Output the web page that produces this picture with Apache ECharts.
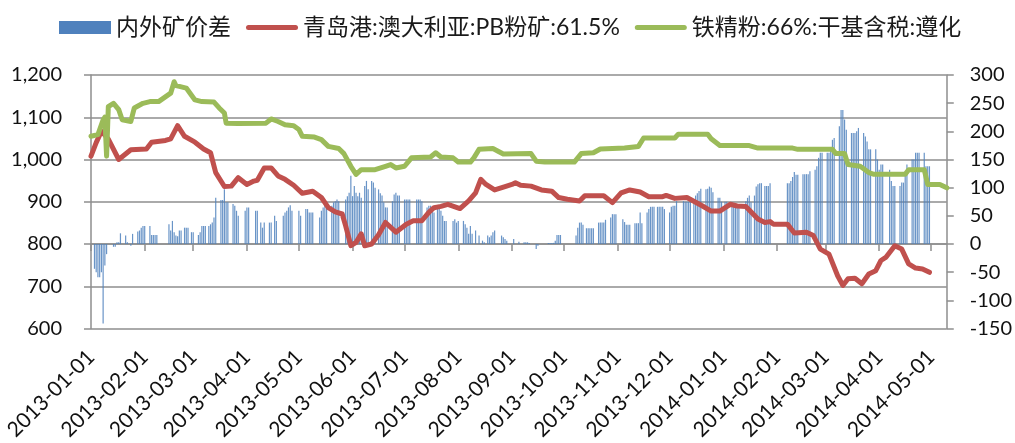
<!DOCTYPE html>
<html><head><meta charset="utf-8">
<script src="https://cdn.jsdelivr.net/npm/echarts@6/dist/echarts.min.js"></script>
<style>html,body{margin:0;padding:0;background:#fff}#c{width:1015px;height:443px}</style>
</head><body><div id="c"></div>
<script>
// ---- data ----
const axisStart = '2013-01-01';
const axisEnd = '2014-05-10';
const monthTicks = ['2013-01-01','2013-02-01','2013-03-01','2013-04-01','2013-05-01','2013-06-01','2013-07-01','2013-08-01','2013-09-01','2013-10-01','2013-11-01','2013-12-01','2014-01-01','2014-02-01','2014-03-01','2014-04-01','2014-05-01'];
const seriesNames = ['内外矿价差', '青岛港:澳大利亚:PB粉矿:61.5%', '铁精粉:66%:干基含税:遵化'];

const pbFines = [
['2013-01-01',1008],['2013-01-04',1040],['2013-01-07',1067],['2013-01-11',1048],['2013-01-17',1000],['2013-01-24',1023],
['2013-02-02',1025],['2013-02-05',1041],['2013-02-13',1045],['2013-02-16',1049],['2013-02-20',1080],['2013-02-24',1055],
['2013-03-02',1041],['2013-03-07',1025],['2013-03-11',1016],['2013-03-14',969],['2013-03-19',936],['2013-03-23',937],['2013-03-27',957],
['2013-04-01',941],['2013-04-05',949],['2013-04-07',951],['2013-04-11',980],['2013-04-15',980],['2013-04-19',961],['2013-04-23',953],['2013-04-28',939],
['2013-05-03',920],['2013-05-09',925],['2013-05-14',910],['2013-05-18',886],['2013-05-22',876],['2013-05-26',871],['2013-05-28',843],['2013-05-31',796],
['2013-06-03',804],['2013-06-06',824],['2013-06-08',796],['2013-06-12',800],['2013-06-16',822],['2013-06-20',851],['2013-06-26',828],
['2013-07-02',847],['2013-07-06',855],['2013-07-11',855],['2013-07-15',875],['2013-07-18',886],['2013-07-22',889],['2013-07-26',894],
['2013-08-02',884],['2013-08-07',902],['2013-08-11',921],['2013-08-14',953],['2013-08-17',941],['2013-08-22',928],['2013-08-28',936],
['2013-09-01',941],['2013-09-03',945],['2013-09-06',939],['2013-09-12',937],['2013-09-18',928],['2013-09-24',925],['2013-09-28',910],
['2013-10-03',906],['2013-10-10',902],['2013-10-13',914],['2013-10-24',914],['2013-10-29',898],
['2013-11-03',921],['2013-11-08',928],['2013-11-14',923],['2013-11-19',912],['2013-11-27',912],['2013-11-29',915],
['2013-12-04',908],['2013-12-11',910],['2013-12-20',890],['2013-12-25',878],['2013-12-30',878],
['2014-01-05',894],['2014-01-09',890],['2014-01-14',889],['2014-01-21',859],['2014-01-25',851],['2014-01-28',853],['2014-01-30',847],
['2014-02-07',847],['2014-02-11',826],['2014-02-18',828],['2014-02-22',820],['2014-02-26',788],
['2014-03-03',776],['2014-03-08',725],['2014-03-11',702],['2014-03-14',718],['2014-03-18',719],['2014-03-22',706],['2014-03-26',729],['2014-03-30',737],
['2014-04-02',761],['2014-04-05',769],['2014-04-10',796],['2014-04-14',788],['2014-04-18',753],['2014-04-22',743],['2014-04-26',741],['2014-04-30',733]
];

const concentrate = [
['2013-01-01',1055],['2013-01-05',1059],['2013-01-08',1094],['2013-01-09',1100],['2013-01-10',1008],['2013-01-11',1125],['2013-01-14',1133],
['2013-01-17',1118],['2013-01-19',1094],['2013-01-24',1090],['2013-01-26',1122],['2013-01-31',1133],
['2013-02-04',1137],['2013-02-09',1137],['2013-02-16',1157],['2013-02-18',1184],['2013-02-19',1175],['2013-02-21',1173],['2013-02-25',1169],
['2013-03-02',1141],['2013-03-06',1137],['2013-03-13',1136],['2013-03-16',1122],['2013-03-19',1110],['2013-03-20',1086],['2013-03-27',1085],
['2013-04-12',1086],['2013-04-15',1096],['2013-04-19',1090],['2013-04-23',1082],['2013-04-28',1080],
['2013-05-01',1071],['2013-05-03',1055],['2013-05-10',1053],['2013-05-14',1047],['2013-05-18',1031],['2013-05-24',1026],['2013-05-27',1014],['2013-05-31',984],
['2013-06-03',965],['2013-06-06',976],['2013-06-14',976],['2013-06-20',984],['2013-06-23',988],['2013-06-26',980],
['2013-07-01',984],['2013-07-05',1004],['2013-07-16',1006],['2013-07-19',1016],['2013-07-22',1006],['2013-07-29',1004],
['2013-08-01',994],['2013-08-08',994],['2013-08-10',1004],['2013-08-13',1024],['2013-08-21',1026],['2013-08-27',1013],
['2013-09-12',1014],['2013-09-15',996],['2013-09-20',994],
['2013-10-07',994],['2013-10-11',1014],['2013-10-18',1016],['2013-10-22',1025],
['2013-11-05',1027],['2013-11-13',1031],['2013-11-16',1051],
['2013-12-04',1051],['2013-12-06',1060],['2013-12-23',1060],['2013-12-25',1049],['2013-12-30',1033],
['2014-01-16',1033],['2014-01-21',1027],['2014-02-10',1027],['2014-02-13',1024],
['2014-03-05',1024],['2014-03-07',1014],['2014-03-12',1014],['2014-03-14',988],['2014-03-21',984],['2014-03-26',969],['2014-03-29',965],
['2014-04-16',965],['2014-04-18',976],['2014-04-27',976],['2014-04-29',941],['2014-05-06',941],['2014-05-10',933]
];

// spread: runs of consecutive daily values, keyed by first date
const spreadRuns = [
['2013-01-03',[-44,-50,-59,-59,-50,-141,-38,-18]],
['2013-01-14',[-5,-5,3,3,19]],
['2013-01-21',[15,3]],
['2013-01-24',[-3,18]],
['2013-01-28',[22,24,29,32,32]],
['2013-02-04',[32,16,16,16,16]],
['2013-02-15',[35,24,41,21,15,14,24,24]],
['2013-02-24',[29,29,29]],
['2013-02-28',[21,21]],
['2013-03-04',[16,21,32,32,32]],
['2013-03-10',[32,35,38,47,82]],
['2013-03-17',[78,78,97,74,74]],
['2013-03-24',[71,68,59,50]],
['2013-03-31',[59,65,65]],
['2013-04-06',[59,59]],
['2013-04-09',[38,29,38]],
['2013-04-14',[38,38]],
['2013-04-17',[50,41]],
['2013-04-22',[50,56,59,65,69,59]],
['2013-05-01',[59,50]],
['2013-05-05',[62,62,56,56,56]],
['2013-05-13',[47,59,65,74,68]],
['2013-05-20',[68,74,76,79,76]],
['2013-05-28',[79,85,91,121,85,103,91,85,91,82]],
['2013-06-08',[103,112,97]],
['2013-06-12',[112,109,100]],
['2013-06-16',[97,90,86,74,65,65]],
['2013-06-24',[76,88,91,86,86]],
['2013-07-01',[79,79,79,79]],
['2013-07-08',[79,79,79,76]],
['2013-07-14',[65,68,68,59,56]],
['2013-07-20',[62,62,59,50,41,41]],
['2013-07-29',[41,44,38,41]],
['2013-08-04',[41,35,29,18,32,18]],
['2013-08-11',[24]],
['2013-08-13',[15]],
['2013-08-15',[6,3]],
['2013-08-18',[15,12,15,21,24]],
['2013-08-26',[15,12,9,6]],
['2013-09-02',[9]],
['2013-09-05',[4]],
['2013-09-08',[3,3,3,2]],
['2013-09-15',[-9,-3]],
['2013-09-22',[2,2,2,2,6,16,16,16]],
['2013-10-08',[15,29,38,38,34]],
['2013-10-14',[28,28,28,28,28]],
['2013-10-21',[38,38,38,38,43]],
['2013-10-28',[47,53,53,53]],
['2013-11-04',[44,39,34,34,34]],
['2013-11-11',[37,37,37,56,37]],
['2013-11-18',[56,62,66,66,66]],
['2013-11-24',[66,66,66,66,62]],
['2013-12-01',[56,66,68,68,76]],
['2013-12-09',[76,75,75,75,75]],
['2013-12-15',[78,86,90,94,98]],
['2013-12-22',[97,98,102,100,92]],
['2013-12-29',[82,82,75]],
['2014-01-02',[75,75]],
['2014-01-06',[74,66,66,66,66]],
['2014-01-14',[76,82,86,74]],
['2014-01-19',[86,102,106,108,108]],
['2014-01-25',[103,103,103,108]],
['2014-02-07',[108,108,112,119,128,123,123]],
['2014-02-16',[124,124,124,124,129]],
['2014-02-23',[132,138,153,162,162]],
['2014-03-02',[162,162,171,185,188]],
['2014-03-09',[209,238,238,221,203]],
['2014-03-16',[197,197,197,200,206]],
['2014-03-23',[197,191,182,168,168]],
['2014-03-30',[168,150,132,141,141]],
['2014-04-07',[132,112,103,103]],
['2014-04-13',[103,109,109,121,141]],
['2014-04-20',[150,150,162,162,162]],
['2014-04-27',[162,138,138,138]]
];

// ---- build ----
const DAY = 86400000;
function parseD(s){const p=s.split('-').map(Number);return Date.UTC(p[0],p[1]-1,p[2]);}
function fmtD(t){const d=new Date(t);return d.getUTCFullYear()+'-'+String(d.getUTCMonth()+1).padStart(2,'0')+'-'+String(d.getUTCDate()).padStart(2,'0');}
const categories = [];
for (let t = parseD(axisStart); t <= parseD(axisEnd); t += DAY) categories.push(fmtD(t));
const spreadData = [];
spreadRuns.forEach(([s, vals]) => { const t0 = parseD(s); vals.forEach((v, i) => spreadData.push([fmtD(t0 + i * DAY), v])); });
const tickSet = new Set(monthTicks);

const FONT = "Lato, 'Noto Sans CJK SC', sans-serif";
const GRIDC = '#8e8e8e';
const LINE_ICON = 'path://M2.5,0L49.5,0A2.5,2.5,0,0,1,49.5,5L2.5,5A2.5,2.5,0,0,1,2.5,0Z';
const chart = echarts.init(document.getElementById('c'), null, {renderer: 'canvas'});
chart.setOption({
  animation: false,
  backgroundColor: '#fff',
  textStyle: {fontFamily: FONT},
  legend: {
    left: 54, top: 11, itemWidth: 52, itemHeight: 13, itemGap: 15,
    symbolKeepAspect: true,
    textStyle: {fontSize: 23, color: '#1a1a1a', fontFamily: FONT},
    data: [
      {name: seriesNames[0], icon: 'rect', itemStyle: {color: '#4f81bd', opacity: 1}},
      {name: seriesNames[1], icon: LINE_ICON, itemStyle: {color: '#c0504d'}},
      {name: seriesNames[2], icon: LINE_ICON, itemStyle: {color: '#9bbb59'}}
    ]
  },
  grid: {left: 91, right: 68, top: 75, bottom: 113, containLabel: false},
  xAxis: {
    type: 'category', data: categories, boundaryGap: false,
    axisLine: {show: true, lineStyle: {color: GRIDC, width: 1.5}},
    axisTick: {show: true, length: 7, interval: (i, v) => tickSet.has(v), lineStyle: {color: GRIDC, width: 1.5}},
    axisLabel: {interval: (i, v) => tickSet.has(v), rotate: 45, fontSize: 21, color: '#111', margin: 25, fontFamily: FONT},
    splitLine: {show: false}
  },
  yAxis: [
    {
      type: 'value', min: 600, max: 1200, interval: 100, position: 'left',
      axisLine: {show: true, lineStyle: {color: GRIDC, width: 1.5}},
      axisTick: {show: true, length: 7, lineStyle: {color: GRIDC, width: 1.5}},
      axisLabel: {fontSize: 20, color: '#111', margin: 29, fontFamily: FONT,
        formatter: v => v.toLocaleString('en-US')},
      splitLine: {show: true, lineStyle: {color: GRIDC, width: 1.5}}
    },
    {
      type: 'value', min: -150, max: 300, interval: 50, position: 'right',
      axisLine: {show: true, lineStyle: {color: GRIDC, width: 1.5}},
      axisTick: {show: true, length: 7, lineStyle: {color: GRIDC, width: 1.5}},
      axisLabel: {fontSize: 20, color: '#111', margin: 23, fontFamily: FONT},
      splitLine: {show: false}
    }
  ],
  series: [
    {
      name: seriesNames[0], type: 'bar', yAxisIndex: 1, data: spreadData,
      barWidth: 1.2, itemStyle: {color: '#4f81bd', opacity: 0.85}
    },
    {
      name: seriesNames[1], type: 'line', yAxisIndex: 0, data: pbFines,
      showSymbol: false, symbol: 'none',
      lineStyle: {color: '#c0504d', width: 5, cap: 'round', join: 'round'},
      itemStyle: {color: '#c0504d'}
    },
    {
      name: seriesNames[2], type: 'line', yAxisIndex: 0, data: concentrate,
      showSymbol: false, symbol: 'none',
      lineStyle: {color: '#9bbb59', width: 5, cap: 'round', join: 'round'},
      itemStyle: {color: '#9bbb59'}
    }
  ]
});
</script></body></html>
